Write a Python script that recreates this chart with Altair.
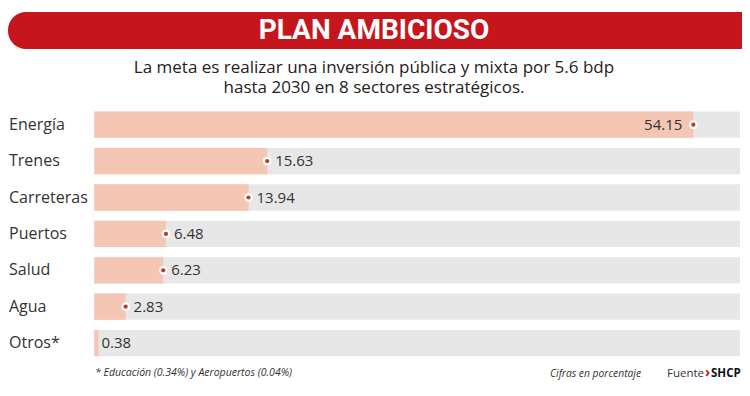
import altair as alt
import pandas as pd

categories = ["Energía", "Trenes", "Carreteras", "Puertos", "Salud", "Agua", "Otros*"]
values = [54.15, 15.63, 13.94, 6.48, 6.23, 2.83, 0.38]
labels = ["54.15", "15.63", "13.94", "6.48", "6.23", "2.83", "0.38"]
X_MAX = 58.37

title_text = "PLAN AMBICIOSO"
subtitle_lines = ["La meta es realizar una inversión pública y mixta por 5.6 bdp",
                  "hasta 2030 en 8 sectores estratégicos."]
footnote = "* Educación (0.34%) y Aeropuertos (0.04%)"
units_note = "Cifras en porcentaje"
source_label = "Fuente"
source_mark = "›"
source_name = "SHCP"

RED = "#c6161d"
PINK = "#f5c6b3"
GRAY = "#e7e7e7"
TXT = "#333333"
FONT = "Open Sans"

df = pd.DataFrame({"cat": categories, "value": values, "label": labels,
                   "zero": [0.0] * len(values), "full": [X_MAX] * len(values)})

xs = alt.Scale(domain=[0, X_MAX], range=[86.3, 732])
ys = alt.Scale(domain=categories, range=[98.5, 353.3], paddingInner=0.278, paddingOuter=0.139)
Y = alt.Y("cat:N", scale=ys, axis=None, sort=categories)

base = alt.Chart(df)

track = base.mark_bar(color=GRAY).encode(
    y=Y, x=alt.X("zero:Q", scale=xs, axis=None), x2="full:Q")
bar = base.mark_bar(color=PINK).encode(
    y=Y, x=alt.X("zero:Q", scale=xs, axis=None), x2="value:Q")
dot_w = base.transform_filter("datum.value > 1").mark_circle(
    size=75, color="white", opacity=1).encode(
    y=Y, x=alt.X("value:Q", scale=xs, axis=None))
dot_r = base.transform_filter("datum.value > 1").mark_circle(
    size=18, color="#c0392b", opacity=1).encode(
    y=Y, x=alt.X("value:Q", scale=xs, axis=None))

lab_in = base.transform_filter("datum.value >= 50").mark_text(
    align="right", baseline="middle", dx=-11, fontSize=15, font=FONT, color=TXT).encode(
    y=Y, x=alt.X("value:Q", scale=xs, axis=None), text="label:N")
lab_out = base.transform_filter("datum.value > 1 && datum.value < 50").mark_text(
    align="left", baseline="middle", dx=8, fontSize=15, font=FONT, color=TXT).encode(
    y=Y, x=alt.X("value:Q", scale=xs, axis=None), text="label:N")
lab_small = base.transform_filter("datum.value <= 1").mark_text(
    align="left", baseline="middle", dx=3, fontSize=15, font=FONT, color=TXT).encode(
    y=Y, x=alt.X("value:Q", scale=xs, axis=None), text="label:N")

cat_text = base.mark_text(align="left", baseline="middle", fontSize=16, font=FONT,
                          color=TXT).encode(y=Y, x=alt.value(1), text="cat:N")

one = alt.Chart(pd.DataFrame({"k": [0]}))
banner = one.mark_rect(color=RED, cornerRadiusTopLeft=18, cornerRadiusBottomLeft=18).encode(
    x=alt.value(0), x2=alt.value(734), y=alt.value(4), y2=alt.value(41))
title = one.mark_text(text=title_text, font="Roboto", fontWeight="bold", fontSize=28,
                      color="white", align="center", baseline="middle").encode(
    x=alt.value(366), y=alt.value(23))
sub1 = one.mark_text(text=subtitle_lines[0], font=FONT, fontSize=17,
                     color="#222222", align="center", baseline="middle").encode(
    x=alt.value(366), y=alt.value(60))
sub2 = one.mark_text(text=subtitle_lines[1], font=FONT, fontSize=17,
                     color="#222222", align="center", baseline="middle").encode(
    x=alt.value(366), y=alt.value(79.5))
foot = one.mark_text(text=footnote, font=FONT, fontStyle="italic", fontSize=10.5,
                     color=TXT, align="left", baseline="middle").encode(
    x=alt.value(87), y=alt.value(365))
units = one.mark_text(text=units_note, font=FONT, fontStyle="italic", fontSize=10.3,
                      color=TXT, align="left", baseline="middle").encode(
    x=alt.value(542), y=alt.value(366))
src1 = one.mark_text(text=source_label, font=FONT, fontSize=11.5, color=TXT,
                     align="left", baseline="middle").encode(x=alt.value(659), y=alt.value(366))
src2 = one.mark_text(text=source_mark, font=FONT, fontSize=14, fontWeight="bold", color=RED,
                     align="left", baseline="middle").encode(x=alt.value(697), y=alt.value(365))
src3 = one.mark_text(text=source_name, font=FONT, fontSize=11.5, fontWeight="bold", color="#111111",
                     align="left", baseline="middle").encode(x=alt.value(703), y=alt.value(366))

chart = alt.layer(
    banner, title, sub1, sub2, track, bar, dot_w, dot_r, lab_in, lab_out, lab_small,
    cat_text, foot, units, src1, src2, src3
).properties(
    width=734, height=380, autosize=alt.AutoSizeParams(type="none"), padding=0,
    background="white"
).configure_view(stroke=None)

chart.save("out.html", embed_options={"renderer": "svg", "actions": False})
